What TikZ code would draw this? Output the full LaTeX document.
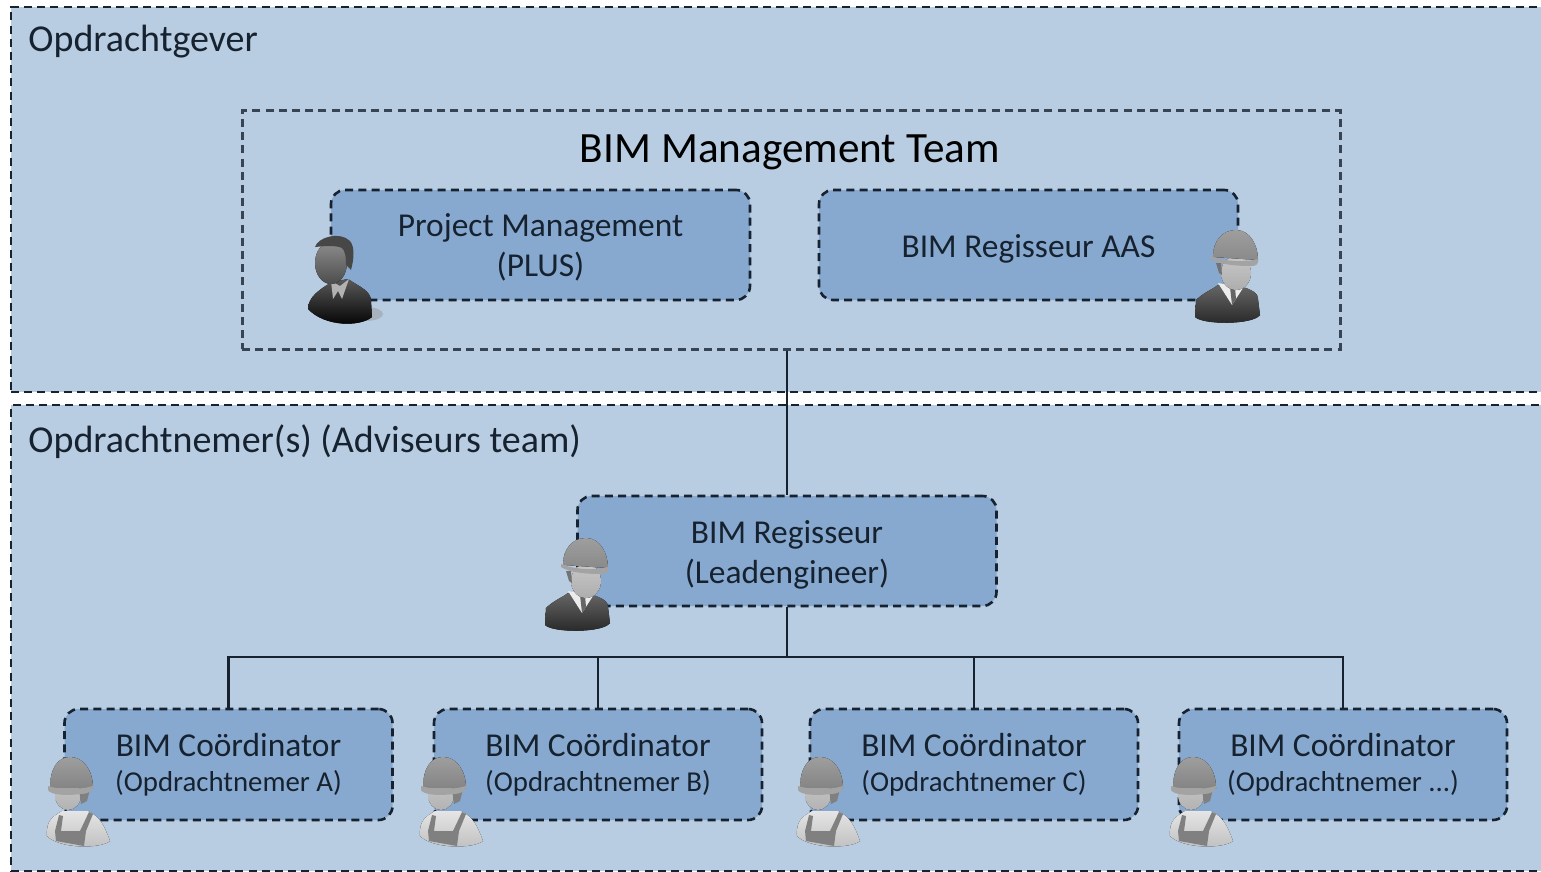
\documentclass[tikz,border=0pt]{standalone}
\usepackage{fontspec}
\setmainfont{Carlito}
\definecolor{regionblue}{HTML}{B8CDE2}
\definecolor{boxblue}{HTML}{88A9CF}
\definecolor{inkdark}{HTML}{16222F}
\tikzstyle{region}=[rectangle, draw=inkdark, line width=1.2pt, dash pattern=on 4pt off 2.6pt, fill=regionblue, inner sep=0pt]
\tikzstyle{team}=[rectangle, draw=inkdark!80!regionblue, line width=1.5pt, dash pattern=on 4pt off 2.6pt, inner sep=0pt, minimum width=549pt, minimum height=119pt]
\tikzstyle{rolebox}=[rectangle, rounded corners=7pt, draw=inkdark, line width=1.3pt, dash pattern=on 4pt off 2.6pt, fill=boxblue, text=inkdark, align=center, inner sep=0pt, minimum width=209.5pt, minimum height=55pt, font=\fontsize{16.7}{20}\selectfont]
\tikzstyle{coordbox}=[rolebox, minimum width=164pt, minimum height=55.5pt]
\tikzstyle{label}=[text=inkdark, inner sep=0pt, anchor=west, font=\fontsize{19}{23}\selectfont]
\tikzstyle{line}=[inkdark, line width=1.1pt]
\newcommand{\subline}[1]{{\fontsize{14.4}{18}\selectfont #1}}
\newcommand{\lowered}[1]{\raisebox{-2.2pt}[11pt][3pt]{#1}}
\tikzset{
  pics/manager/.style={code={
    \fill[black!40, opacity=.5] (26,37) ellipse (17 and 7);
    \fill[top color=black!65, bottom color=black] (-32,32) .. controls (-32,20) and (-20,12) .. (-8,5) -- (8,2) .. controls (20,10) and (31,14) .. (31,24) -- (32,40) .. controls (20,50) and (-15,50) .. (-32,32) -- cycle;
    \fill[gray!60] (-9,4) -- (-7,22) -- (-2,14) -- (2,22) -- (9,2) -- (0,9) -- cycle;
    \fill[top color=black!45, bottom color=black!70] (-9,-14) ellipse (16 and 21);
    \fill[black!72] (-25,-30) .. controls (-22,-40) and (0,-46) .. (10,-36) .. controls (15,-30) and (14,-18) .. (11,-7) -- (6,-12) .. controls (6,-20) and (5,-27) .. (2,-29) .. controls (-5,-32) and (-15,-31) .. (-25,-30) -- cycle;
  }},
  pics/helmetsuit/.style={code={
    \fill[top color=black!60, bottom color=black!85] (-33,42) -- (-32,25) .. controls (-25,18) and (-15,14) .. (-10,10) -- (18,13) .. controls (25,16) and (30,18) .. (30,24) -- (32,40) .. controls (25,50) and (-25,50) .. (-33,42) -- cycle;
    \fill[gray!15] (-10,8) -- (4,30) -- (15,13) -- cycle;
    \fill[black!60] (2,12) -- (7,12) -- (8,24) -- (4,30) -- cycle;
    \fill[top color=black!22, bottom color=black!32] (8,-2) ellipse (15 and 17);
    \fill[black!55] (-12,-12) -- (-7,-12) -- (-6,0) -- (-9,-2) -- cycle;
    \fill[top color=black!38, bottom color=black!46] (-15,-18) .. controls (-15,-35) and (-5,-45) .. (8,-45) .. controls (22,-45) and (30,-30) .. (30,-15) -- cycle;
    \fill[black!36] (-17,-19) .. controls (-5,-14) and (15,-12) .. (30,-16) .. controls (31,-11) and (28,-9) .. (24,-9) .. controls (10,-9) and (-8,-10) .. (-17,-16) -- cycle;
  }},
  pics/worker/.style={code={
    \fill[top color=black!10, bottom color=black!25] (-23,33) .. controls (-24,18) and (-18,14) .. (-8,8) -- (18,8) .. controls (30,14) and (34,22) .. (40,38) .. controls (30,46) and (-10,46) .. (-23,33) -- cycle;
    \fill[black!50] (-11,12) -- (-7,13) -- (-9,28) -- (10,28) -- (19,9) -- (23,11) -- (16,28) -- (14,43) -- (-14,38) -- (-15,28) -- cycle;
    \fill[top color=black!22, bottom color=black!30] (-2,-8) ellipse (13 and 15);
    \fill[black!50] (9,-14) -- (20,-14) -- (17,-2) -- (11,1) -- cycle;
    \fill[top color=black!38, bottom color=black!48] (-20,-15) .. controls (-20,-35) and (-12,-46) .. (0,-46) .. controls (14,-46) and (23,-32) .. (23,-15) -- cycle;
    \fill[black!36] (-22,-17) .. controls (-10,-13) and (10,-13) .. (23,-17) .. controls (24,-12) and (18,-9) .. (10,-9) .. controls (-2,-7) and (-20,-8) .. (-22,-13) -- cycle;
  }}
}
\begin{document}
\begin{tikzpicture}[x=0.5pt, y=-0.5pt, node distance=100pt]

\path[use as bounding box, fill=white](0,0) rectangle (1541,872);
\clip(0,0) rectangle (1541,872);

\node(gever)[region, minimum width=800pt, minimum height=192.5pt] at (811,199.5){};
\node(nemer)[region, minimum width=800pt, minimum height=233pt] at (811,638){};
\node(gevertext)[label] at (28,42){Opdrachtgever};
\node(nemertext)[label] at (28,442){Opdrachtnemer(s) (Adviseurs team)};

\node(mgmt)[team] at (791,230){};
\node(mgmttext)[text=black, inner sep=0pt, font=\fontsize{21.6}{25}\selectfont] at (790,152){BIM Management Team};
\node(pm)[rolebox, text depth=0pt] at (540.5,245){Project Management\\(PLUS)};
\node(aas)[rolebox, right of=pm, xshift=144pt]{\lowered{BIM Regisseur AAS}};
\node(reg)[rolebox] at (787,551){\lowered{BIM Regisseur}\\\lowered{(Leadengineer)}};

\node(c1)[coordbox] at (228.5,764.5){BIM Coördinator\\[-2.5pt]\subline{(Opdrachtnemer A)}};
\node(c2)[coordbox, right of=c1, xshift=84.75pt]{BIM Coördinator\\[-2.5pt]\subline{(Opdrachtnemer B)}};
\node(c3)[coordbox, right of=c2, xshift=88pt]{BIM Coördinator\\[-2.5pt]\subline{(Opdrachtnemer C)}};
\node(c4)[coordbox, right of=c3, xshift=84.5pt]{BIM Coördinator\\[-2.5pt]\subline{(Opdrachtnemer ...)}};

\coordinate(bus) at (787,657);

\draw[line](reg.north)--(reg.north |- mgmt.south);
\draw[line](reg.south)--(bus);
\draw[line](c1.north)|-(bus);
\draw[line](c2.north)|-(bus);
\draw[line](c3.north)|-(bus);
\draw[line](c4.north)|-(bus);

\pic(pmicon) at (340,277){manager};
\pic(aasicon) at (1228,275){helmetsuit};
\pic(regicon) at (578,583){helmetsuit};
\pic(c1icon) at (70,803){worker};
\pic(c2icon) at (443,803){worker};
\pic(c3icon) at (820,803){worker};
\pic(c4icon) at (1193,803){worker};

\end{tikzpicture}
\end{document}
